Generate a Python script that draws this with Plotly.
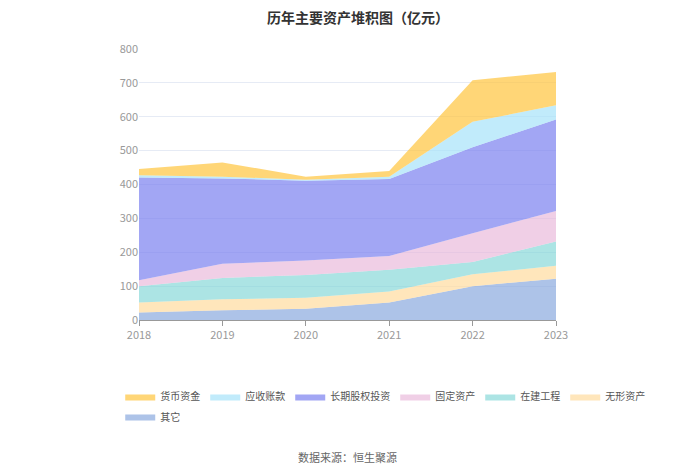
import plotly.graph_objects as go

# Jahre und Werte (亿元), von unten nach oben gestapelt
years = ["2018", "2019", "2020", "2021", "2022", "2023"]

qita = [22, 29, 33, 52, 100, 122]        # 其它
wuxing = [30, 32, 33, 32, 35, 38]        # 无形资产
zaijian = [48, 63, 67, 64, 36, 72]       # 在建工程
guding = [17, 42, 43, 41, 85, 90]        # 固定资产
changqi = [304, 252, 235, 227, 254, 270] # 长期股权投资
yingshou = [6, 5, 3, 7, 75, 42]          # 应收账款
huobi = [19, 42, 9, 17, 123, 98]         # 货币资金

series = [
    ("其它", qita, "rgba(138,170,222,0.7)"),
    ("无形资产", wuxing, "rgba(255,219,158,0.7)"),
    ("在建工程", zaijian, "rgba(127,214,214,0.65)"),
    ("固定资产", guding, "rgba(232,182,217,0.65)"),
    ("长期股权投资", changqi, "rgba(123,128,240,0.7)"),
    ("应收账款", yingshou, "rgba(166,227,250,0.7)"),
    ("货币资金", huobi, "rgba(255,197,61,0.7)"),
]

fig = go.Figure()
for name, vals, col in series:
    fig.add_trace(go.Scatter(
        x=years, y=vals, name=name,
        stackgroup="one", mode="lines",
        line=dict(width=0, color=col),
        fillcolor=col,
        # "其它" in zweite Legendenzeile
        legend="legend2" if name == "其它" else "legend",
    ))

leg_font = dict(size=10, color="#555")

# Seite hat 8px Rand -> Ränder entsprechend verschoben
fig.update_layout(
    width=700, height=474,
    font=dict(family="Noto Sans CJK SC", size=11, color="#666"),
    title=dict(text="<b>历年主要资产堆积图（亿元）</b>", x=0.5, y=0.978,
               yanchor="middle", xanchor="center", font=dict(size=14, color="#333")),
    plot_bgcolor="white", paper_bgcolor="white",
    margin=dict(l=131, r=152, t=41, b=162),
    legend=dict(orientation="h", x=-0.045, y=-0.229, xanchor="left", yanchor="top",
                traceorder="reversed", itemwidth=30, font=leg_font),
    legend2=dict(orientation="h", x=-0.045, y=-0.303, xanchor="left", yanchor="top",
                 itemwidth=30, font=leg_font),
    annotations=[dict(text="数据来源：恒生聚源", x=0.5, y=-0.506, xref="paper",
                      yref="paper", showarrow=False, yanchor="middle",
                      font=dict(size=11, color="#666"))],
)
fig.update_xaxes(showgrid=False, showline=True, linecolor="#999",
                 ticks="outside", tickcolor="#999", ticklen=5,
                 range=[0, 5], tickfont=dict(color="#999"))
fig.update_yaxes(range=[0, 800], dtick=100, gridcolor="#E6EBF5",
                 zeroline=False, tickfont=dict(color="#999"))

fig.write_html("out.html")
